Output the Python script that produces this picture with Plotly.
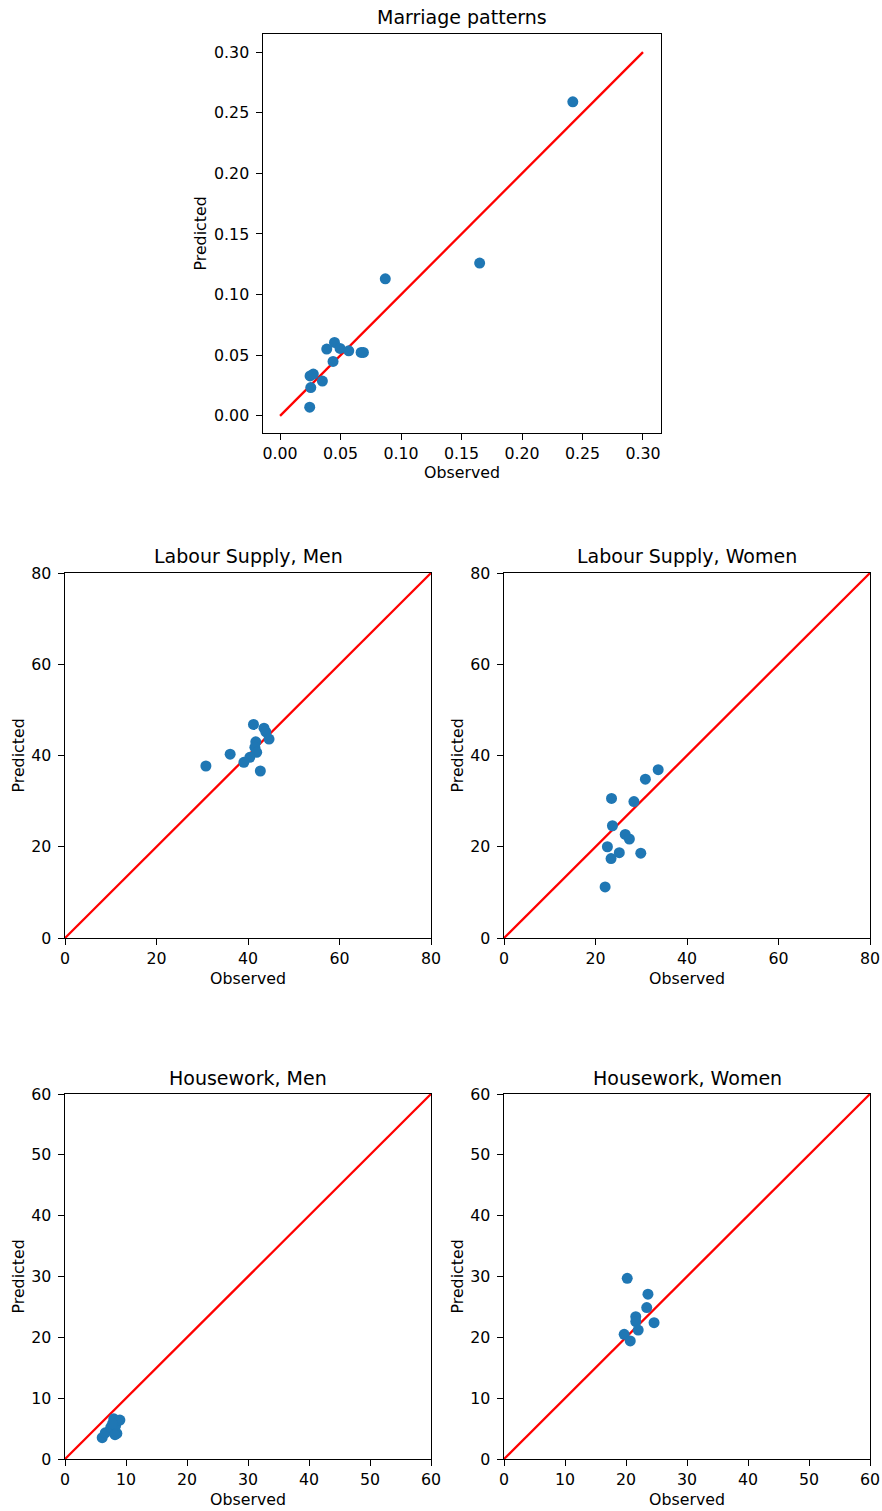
import plotly.graph_objects as go

W, H = 882, 1511

# ---- data ----
marriage_obs = [0.242, 0.165, 0.087, 0.045, 0.0386, 0.0496, 0.0568, 0.067, 0.0689, 0.0438, 0.0248, 0.0275, 0.0254, 0.035, 0.0245]
marriage_pred = [0.259, 0.126, 0.113, 0.0606, 0.0551, 0.0556, 0.0537, 0.0523, 0.0523, 0.0449, 0.033, 0.0345, 0.0234, 0.0287, 0.0072]

lab_men_obs = [41.2, 43.5, 43.9, 44.6, 41.7, 41.5, 41.9, 36.1, 40.4, 39.1, 30.8, 42.7]
lab_men_pred = [46.8, 46.0, 45.2, 43.6, 43.0, 41.8, 40.7, 40.3, 39.6, 38.5, 37.7, 36.6]

lab_women_obs = [33.7, 30.9, 23.5, 28.4, 23.7, 26.5, 27.4, 22.6, 25.2, 29.9, 23.4, 22.1]
lab_women_pred = [36.9, 34.8, 30.6, 29.9, 24.6, 22.7, 21.7, 20.0, 18.7, 18.6, 17.4, 11.2]

hw_men_obs = [6.1, 6.6, 7.5, 8.0, 8.3, 8.5, 9.0, 8.2, 7.8]
hw_men_pred = [3.5, 4.3, 5.2, 6.6, 5.5, 4.2, 6.4, 4.0, 5.8]

hw_women_obs = [20.2, 23.6, 23.4, 21.6, 21.6, 24.6, 22.0, 19.7, 20.7]
hw_women_pred = [29.7, 27.1, 24.9, 23.4, 22.6, 22.4, 21.2, 20.5, 19.4]

titles = ["Marriage patterns", "Labour Supply, Men", "Labour Supply, Women", "Housework, Men", "Housework, Women"]
line_max = [0.30, 80, 80, 60, 60]

panels = [
    dict(obs=marriage_obs, pred=marriage_pred, px=(263, 661), py=(34, 433),
         rng=(-0.0141, 0.3149), ticks=[0, 0.05, 0.10, 0.15, 0.20, 0.25, 0.30], fmt=".2f"),
    dict(obs=lab_men_obs, pred=lab_men_pred, px=(65, 431), py=(573, 938),
         rng=(0, 80), ticks=[0, 20, 40, 60, 80], fmt="d"),
    dict(obs=lab_women_obs, pred=lab_women_pred, px=(504, 870), py=(573, 938),
         rng=(0, 80), ticks=[0, 20, 40, 60, 80], fmt="d"),
    dict(obs=hw_men_obs, pred=hw_men_pred, px=(65, 431), py=(1094, 1459),
         rng=(0, 60), ticks=[0, 10, 20, 30, 40, 50, 60], fmt="d"),
    dict(obs=hw_women_obs, pred=hw_women_pred, px=(504, 870), py=(1094, 1459),
         rng=(0, 60), ticks=[0, 10, 20, 30, 40, 50, 60], fmt="d"),
]

FONT = "DejaVu Sans"
TICK = 15.8
fig = go.Figure()
layout = dict(width=W, height=H, margin=dict(l=0, r=0, t=0, b=0, autoexpand=False),
              plot_bgcolor="white", paper_bgcolor="white", showlegend=False,
              font=dict(family=FONT, size=TICK, color="black"))
annotations = []

for i, p in enumerate(panels):
    n = "" if i == 0 else str(i + 1)
    xa, ya = "x" + n, "y" + n
    fig.add_trace(go.Scatter(x=[0, line_max[i]], y=[0, line_max[i]], mode="lines",
                             line=dict(color="red", width=2.3), xaxis=xa, yaxis=ya,
                             hoverinfo="skip", cliponaxis=False))
    fig.add_trace(go.Scatter(x=p["obs"], y=p["pred"], mode="markers",
                             marker=dict(color="#1f77b4", size=11, line=dict(width=0)),
                             xaxis=xa, yaxis=ya))
    xd = [p["px"][0] / W, p["px"][1] / W]
    yd = [1 - p["py"][1] / H, 1 - p["py"][0] / H]
    common = dict(showgrid=False, zeroline=False, showline=True, linecolor="black",
                  linewidth=1.2, mirror=True, ticks="outside", ticklen=5.5, tickwidth=1.2,
                  tickcolor="black", tickvals=p["ticks"], tickformat=p["fmt"],
                  range=list(p["rng"]), tickfont=dict(family=FONT, size=TICK),
                  automargin=False)
    layout["xaxis" + n] = dict(domain=xd, anchor=ya, **common)
    layout["yaxis" + n] = dict(domain=yd, anchor=xa, ticklabelstandoff=4, **common)
    cx = (p["px"][0] + p["px"][1]) / 2
    annotations.append(dict(text=titles[i], x=cx / W, y=1 - (p["py"][0] - 16.5) / H,
                            xref="paper", yref="paper", xanchor="center", yanchor="middle",
                            showarrow=False, font=dict(family=FONT, size=19)))
    annotations.append(dict(text="Observed", x=cx / W, y=1 - (p["py"][1] + 40) / H,
                            xref="paper", yref="paper", xanchor="center", yanchor="middle",
                            showarrow=False, font=dict(family=FONT, size=TICK)))
    cy = (p["py"][0] + p["py"][1]) / 2
    annotations.append(dict(text="Predicted", x=(p["px"][0] - 63 if i == 0 else p["px"][0] - 47) / W,
                            y=1 - cy / H, xref="paper", yref="paper",
                            xanchor="center", yanchor="middle", textangle=-90,
                            showarrow=False, font=dict(family=FONT, size=TICK)))

layout["annotations"] = annotations
fig.update_layout(**layout)
fig.write_html("out.html", config={"displayModeBar": False},
               post_script="document.body.style.margin='0';document.body.style.overflow='hidden';")
